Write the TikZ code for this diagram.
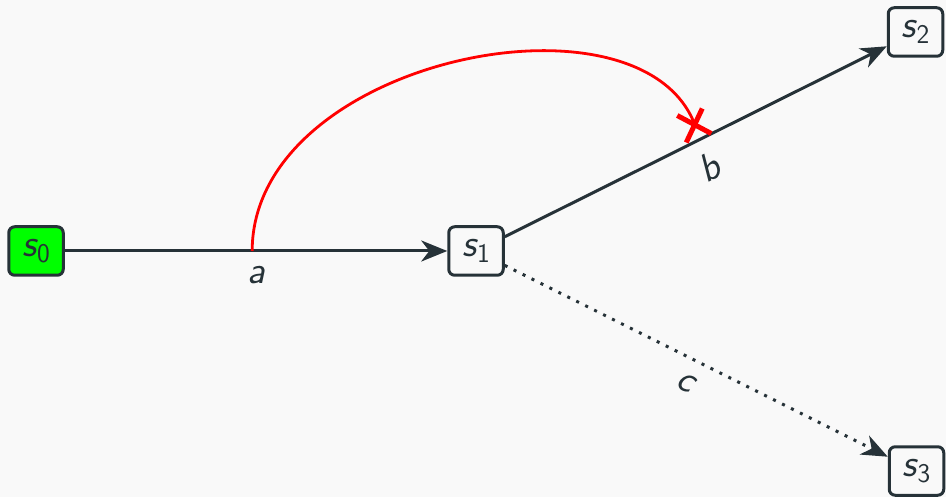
\documentclass[tikz,border=0pt]{standalone}
\usepackage{fontspec}
\usetikzlibrary{arrows.meta,calc}
\definecolor{ink}{HTML}{263238}
\definecolor{bg}{HTML}{F9F9F9}
\definecolor{startgreen}{HTML}{00FF00}
\definecolor{cutred}{HTML}{FF0000}
% state name: slanted letter with an upright, lowered index
\newcommand\statename[2]{{\fontsize{39}{42}\selectfont\sffamily\slshape #1}\kern1pt{\fontsize{27}{30}\selectfont\sffamily\upshape\raisebox{-6pt}{#2}}}
\begin{document}
\begin{tikzpicture}[x=1pt,y=-1pt,
  state/.style={draw=ink, line width=3pt, rounded corners=6pt, fill=bg,
    minimum width=54.5pt, minimum height=48.5pt, inner sep=0pt, text=ink},
  trans/.style={draw=ink, line width=3pt,
    -{Stealth[length=26pt,width=21pt,inset=8pt]}},
  elabel/.style={midway, sloped, below=14pt, inner sep=0pt, text=ink,
    font=\fontsize{39}{42}\selectfont\sffamily\slshape},
  cutline/.style={draw=cutred, line width=2.8pt},
  cutmark/.style={draw=cutred, line width=5pt},
]
\fill[bg] (0,0) rectangle (946,497);
\useasboundingbox (0,0) rectangle (946,497);

% states
\node[state, fill=startgreen] (s0) at (36,251)    {\statename{s}{0}};
\node[state]                  (s1) at (476,251)   {\statename{s}{1}};
\node[state]                  (s2) at (915.5,32)  {\statename{s}{2}};
\node[state]                  (s3) at (916.5,471) {\statename{s}{3}};

% transitions
\draw[trans] (s0) -- coordinate[pos=0.49] (ea) node[elabel] {a} (s1);
\draw[trans] (s1) -- coordinate[midway] (eb) node[elabel] {b} (s2);
\draw[trans, dash pattern=on 3pt off 7pt] (s1) -- node[elabel] {c} (s3);

% cut from transition a onto transition b
\coordinate (cut) at ($(eb)+(-1,-17)$);
\draw[cutline] (ea) .. controls ($(ea)+(0,-191)$) and ($(cut)+(-55,-144)$) .. (cut);
\draw[cutmark] ($(cut)+(-17.5,-9)$) -- ($(cut)+(16.5,9)$);
\draw[cutmark] ($(cut)+(-8.5,18)$) -- ($(cut)+(7.5,-16)$);
\end{tikzpicture}
\end{document}
